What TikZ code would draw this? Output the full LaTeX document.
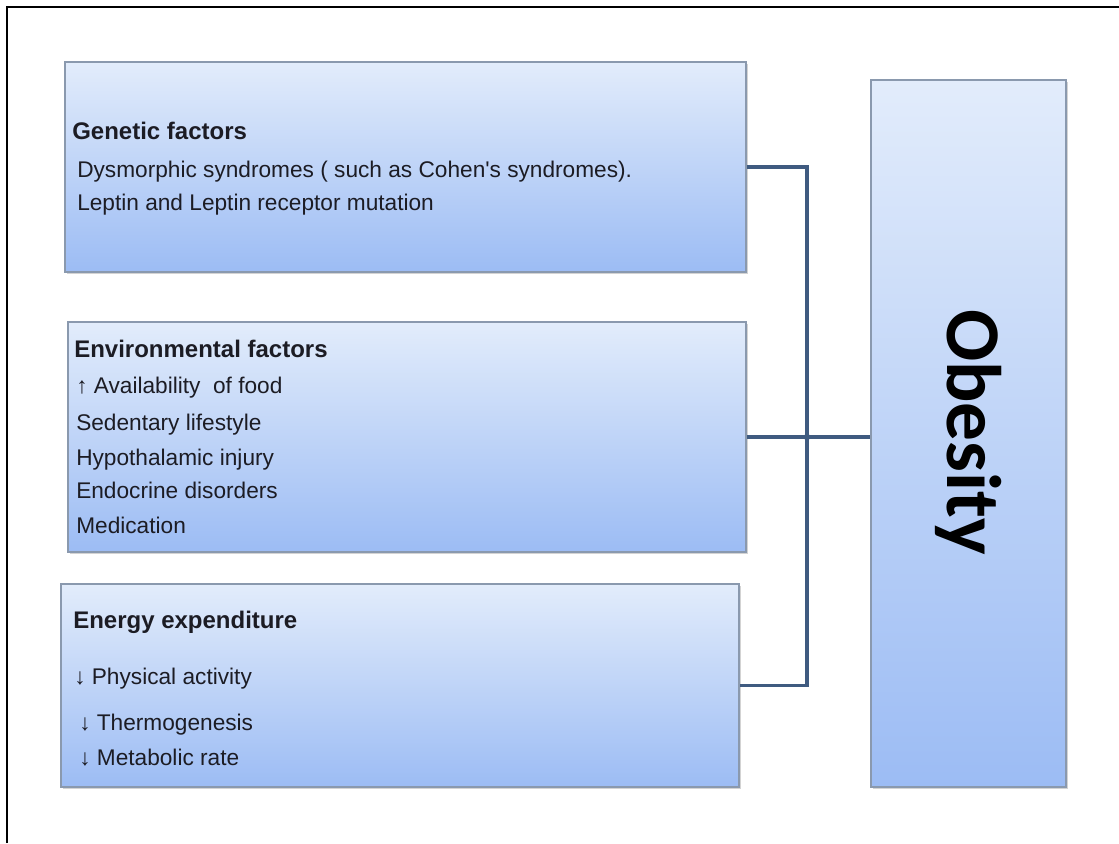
\documentclass[tikz,border=0pt]{standalone}
\usepackage{fontspec}
\setmainfont{Liberation Sans}
\newfontfamily\obfont{Carlito}
\usetikzlibrary{fit,shadows}
\definecolor{boxtop}{HTML}{E2ECFB}
\definecolor{boxbot}{HTML}{9CBCF4}
\definecolor{boxedge}{HTML}{8A99AE}
\definecolor{linkblue}{HTML}{3F5B80}
\definecolor{inkdark}{HTML}{1C1C24}
\tikzset{
  factbox/.style={draw=boxedge, line width=0.8pt, inner sep=0pt,
    top color=boxtop, bottom color=boxbot,
    drop shadow={opacity=0.35, shadow xshift=1.6pt, shadow yshift=-1.6pt}},
  headtxt/.style={anchor=base west, inner sep=0pt, text=inkdark,
    font=\fontsize{18}{21}\selectfont\bfseries},
  itemtxt/.style={anchor=base west, inner sep=0pt, text=inkdark,
    font=\fontsize{17}{20}\selectfont},
  conn/.style={draw=linkblue, line width=2.3pt}
}
\begin{document}
\begin{tikzpicture}[x=0.75pt,y=-0.75pt]
\useasboundingbox (0,0) rectangle (1119,843);
% page frame (left and top edges)
\draw[black, line width=1.6pt] (7,843) -- (7,7) -- (1119,7);

% factor boxes
\node[factbox, fit={(65,62) (746,272)}] (gen) {};
\node[factbox, fit={(68,322) (746,552)}] (env) {};
\node[factbox, fit={(61,584) (739,787)}] (ene) {};
\node[factbox, fit={(871,80) (1066,787)}] (obe) {};

% genetic factors
\node[headtxt] (genh) at (72,139) {Genetic factors};
\node[itemtxt] (gen1) at (77,177) {Dysmorphic syndromes ( such as Cohen\textquotesingle s syndromes).};
\node[itemtxt] (gen2) at (77,210) {Leptin and Leptin receptor mutation};

% environmental factors
\node[headtxt] (envh) at (74,357) {Environmental factors};
\node[itemtxt] (env1) at (76,393) {↑ Availability~ of food};
\node[itemtxt] (env2) at (76,430) {Sedentary lifestyle};
\node[itemtxt] (env3) at (76,465) {Hypothalamic injury};
\node[itemtxt] (env4) at (76,498) {Endocrine disorders};
\node[itemtxt] (env5) at (76,533) {Medication};

% energy expenditure
\node[headtxt] (eneh) at (73,628) {Energy expenditure};
\node[itemtxt] (ene1) at (74,684) {↓ Physical activity};
\node[itemtxt] (ene2) at (79,730) {↓ Thermogenesis};
\node[itemtxt] (ene3) at (79,765) {↓ Metabolic rate};

% outcome
\node[anchor=base, rotate=-90, inner sep=0pt, text=black,
      font=\obfont\fontsize{58}{60}\selectfont\bfseries] (obt) at (947,432) {Obesity};

% connectors
\coordinate (j) at (807,437);
\draw[conn] (gen.east) -| (j) |- (ene.east);
\draw[conn] (env.east) -- (j) -- (j -| obe.west);
\fill[linkblue] (j) circle (3.2);
\end{tikzpicture}
\end{document}
